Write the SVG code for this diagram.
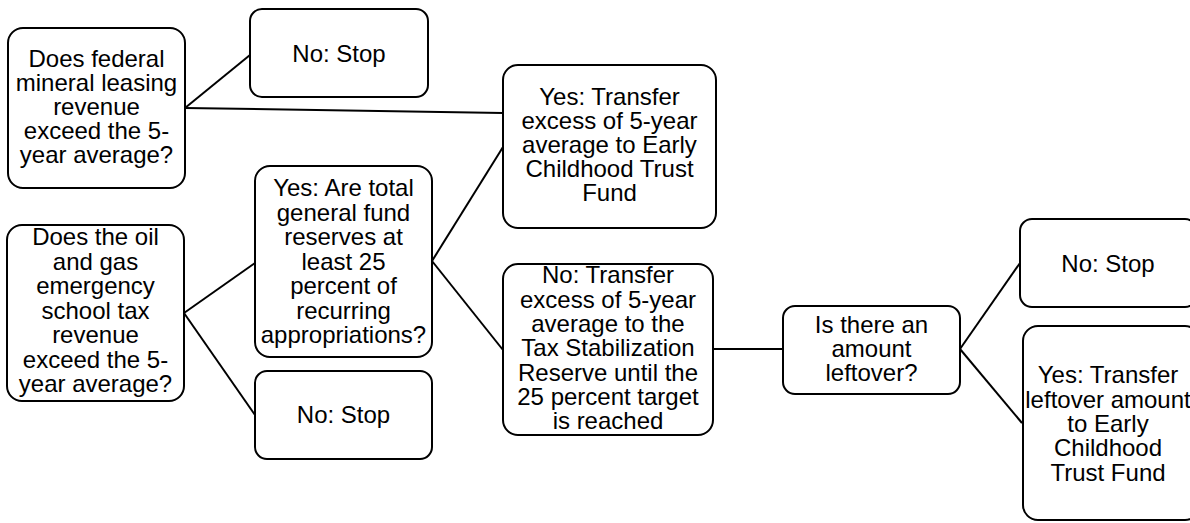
<svg xmlns="http://www.w3.org/2000/svg" width="1190" height="523" viewBox="0 0 1190 523">
<style>
.b{fill:#fff;stroke:#000;stroke-width:2}
.t{font-family:"Liberation Sans",Arial,sans-serif;font-size:24px;fill:#000;text-anchor:middle}
.c{stroke:#000;stroke-width:2;fill:none}
</style>
<rect width="1190" height="523" fill="#fff"/>
<g id="connectors">
<line class="c" x1="185" y1="108" x2="250" y2="55"/>
<line class="c" x1="185" y1="108" x2="503" y2="113"/>
<line class="c" x1="184" y1="313" x2="255" y2="263"/>
<line class="c" x1="184" y1="313" x2="255" y2="415"/>
<line class="c" x1="432" y1="261" x2="503" y2="147"/>
<line class="c" x1="432" y1="261" x2="503" y2="350"/>
<line class="c" x1="713" y1="349" x2="783" y2="349"/>
<line class="c" x1="960" y1="349" x2="1020" y2="263"/>
<line class="c" x1="960" y1="349" x2="1022" y2="423"/>
</g>
<g id="q1">
<rect class="b" x="8" y="28" width="177" height="160" rx="15"/>
<text class="t"><tspan x="96.5" y="67">Does federal</tspan><tspan x="96.5" y="91">mineral leasing</tspan><tspan x="96.5" y="115">revenue</tspan><tspan x="96.5" y="139">exceed the 5-</tspan><tspan x="96.5" y="163">year average?</tspan></text>
</g>
<g id="stop1">
<rect class="b" x="250" y="9" width="178" height="88" rx="12"/>
<text class="t" x="339" y="62">No: Stop</text>
</g>
<g id="transfer1">
<rect class="b" x="503" y="65" width="213" height="163" rx="15"/>
<text class="t"><tspan x="609.5" y="105">Yes: Transfer</tspan><tspan x="609.5" y="129">excess of 5-year</tspan><tspan x="609.5" y="153">average to Early</tspan><tspan x="609.5" y="177">Childhood Trust</tspan><tspan x="609.5" y="201">Fund</tspan></text>
</g>
<g id="q2">
<rect class="b" x="7" y="225" width="177" height="176" rx="15"/>
<text class="t"><tspan x="95.5" y="245">Does the oil</tspan><tspan x="95.5" y="269.5">and gas</tspan><tspan x="95.5" y="294">emergency</tspan><tspan x="95.5" y="318.5">school tax</tspan><tspan x="95.5" y="343">revenue</tspan><tspan x="95.5" y="367.5">exceed the 5-</tspan><tspan x="95.5" y="392">year average?</tspan></text>
</g>
<g id="q3">
<rect class="b" x="255" y="166" width="177" height="191" rx="15"/>
<text class="t"><tspan x="343.5" y="196">Yes: Are total</tspan><tspan x="343.5" y="220.5">general fund</tspan><tspan x="343.5" y="245">reserves at</tspan><tspan x="343.5" y="269.5">least 25</tspan><tspan x="343.5" y="294">percent of</tspan><tspan x="343.5" y="318.5">recurring</tspan><tspan x="343.5" y="343">appropriations?</tspan></text>
</g>
<g id="stop2">
<rect class="b" x="255" y="371" width="177" height="88" rx="12"/>
<text class="t" x="343.5" y="423">No: Stop</text>
</g>
<g id="transfer2">
<rect class="b" x="503" y="264" width="210" height="171" rx="15"/>
<text class="t"><tspan x="608" y="283">No: Transfer</tspan><tspan x="608" y="307.5">excess of 5-year</tspan><tspan x="608" y="332">average to the</tspan><tspan x="608" y="356">Tax Stabilization</tspan><tspan x="608" y="380.5">Reserve until the</tspan><tspan x="608" y="405">25 percent target</tspan><tspan x="608" y="429">is reached</tspan></text>
</g>
<g id="q4">
<rect class="b" x="783" y="306" width="177" height="88" rx="12"/>
<text class="t"><tspan x="871.5" y="333">Is there an</tspan><tspan x="871.5" y="357">amount</tspan><tspan x="871.5" y="381">leftover?</tspan></text>
</g>
<g id="stop3">
<rect class="b" x="1020" y="219" width="177" height="88" rx="12"/>
<text class="t" x="1108" y="272">No: Stop</text>
</g>
<g id="transfer3">
<rect class="b" x="1023" y="326" width="177" height="194" rx="15"/>
<text class="t"><tspan x="1108" y="383">Yes: Transfer</tspan><tspan x="1108" y="407.5">leftover amount</tspan><tspan x="1108" y="432">to Early</tspan><tspan x="1108" y="456">Childhood</tspan><tspan x="1108" y="480.5">Trust Fund</tspan></text>
</g>
</svg>
